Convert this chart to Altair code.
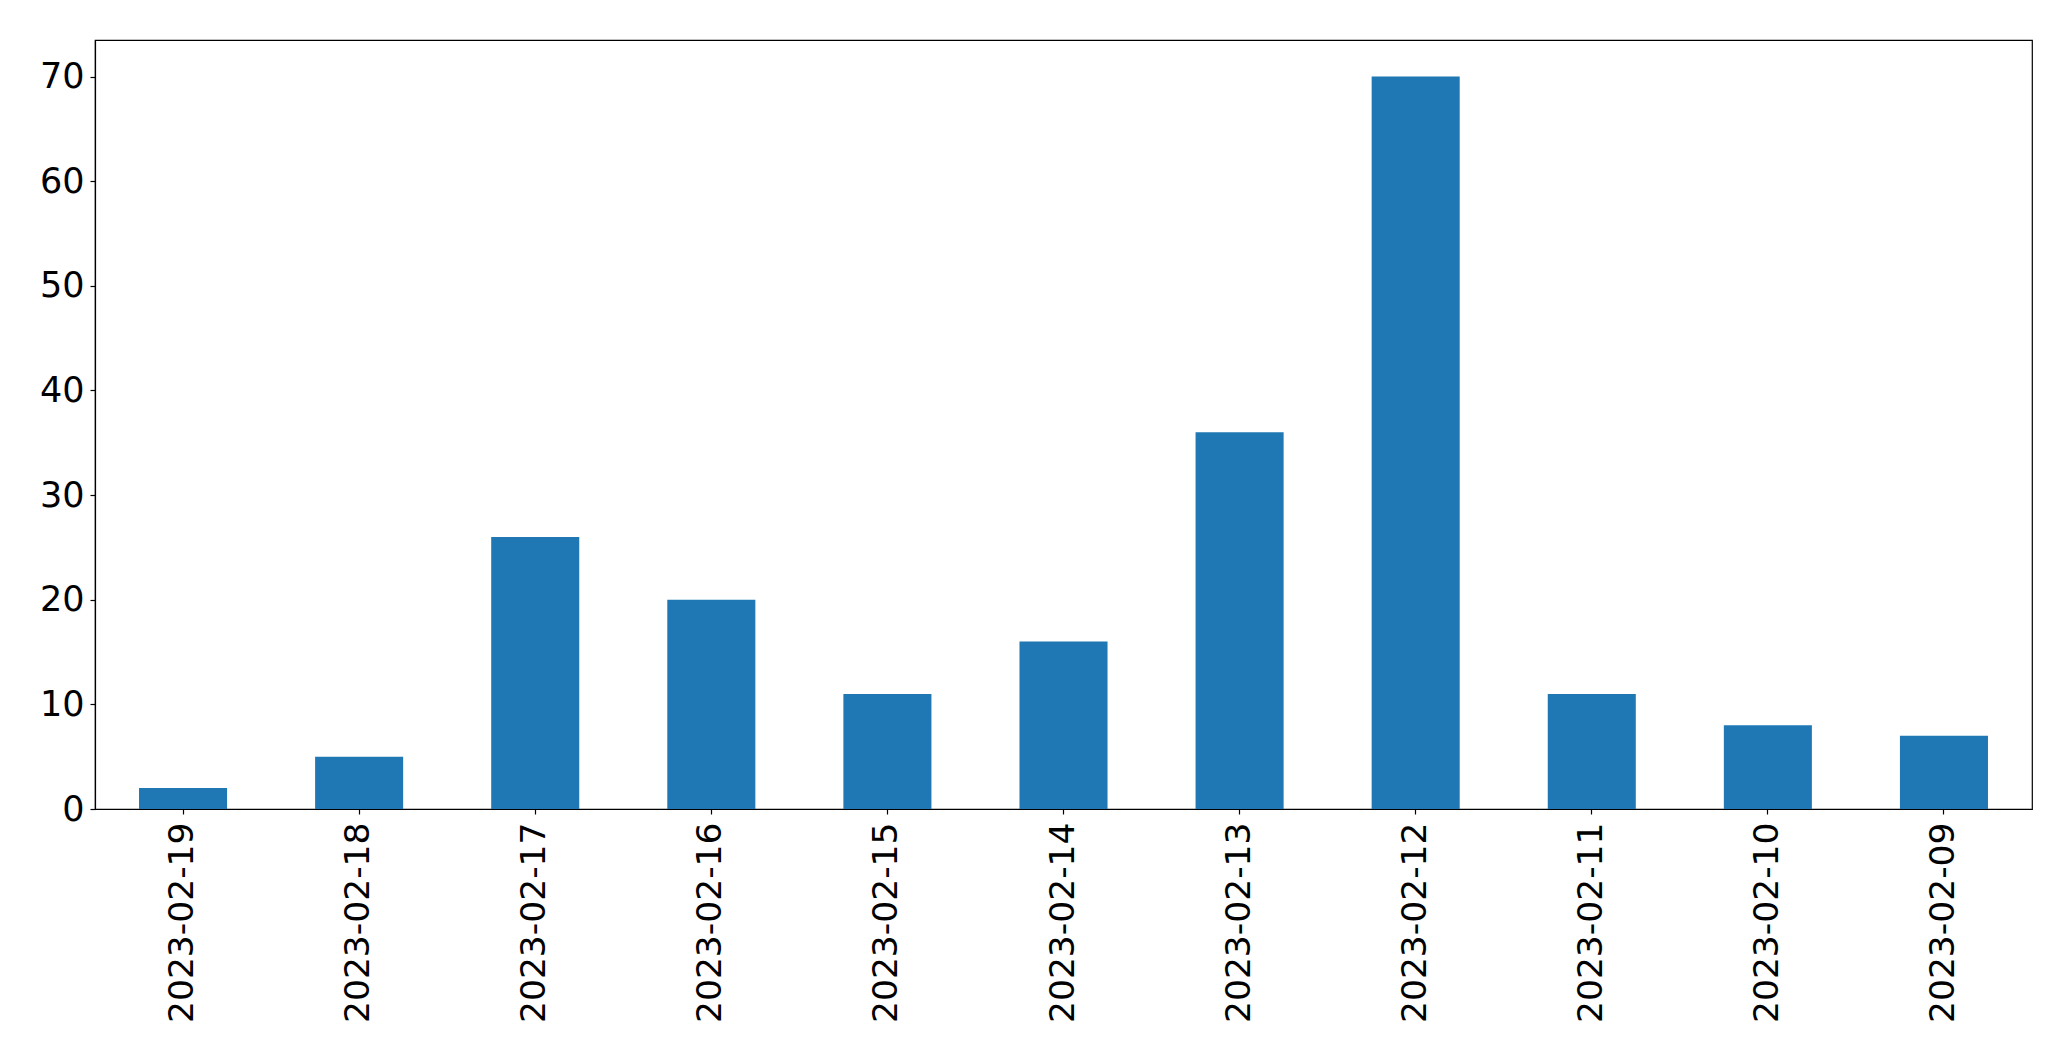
import altair as alt
import pandas as pd

dates = ["2023-02-19", "2023-02-18", "2023-02-17", "2023-02-16", "2023-02-15",
         "2023-02-14", "2023-02-13", "2023-02-12", "2023-02-11", "2023-02-10", "2023-02-09"]
counts = [2, 5, 26, 20, 11, 16, 36, 70, 11, 8, 7]

df = pd.DataFrame({"date": dates, "count": counts})

FONT = "DejaVu Sans"

chart = alt.Chart(df).mark_bar(color="#1f77b4").encode(
    x=alt.X("date:N", sort=dates, title=None,
            scale=alt.Scale(paddingInner=0.5, paddingOuter=0.25),
            axis=alt.Axis(labelAngle=270, labelAlign="right", labelBaseline="middle",
                          labelFontSize=34.5, labelFont=FONT, labelColor="black",
                          labelLimit=500,
                          tickSize=5, tickColor="black", domainColor="black",
                          labelPadding=8, grid=False)),
    y=alt.Y("count:Q", title=None,
            scale=alt.Scale(domain=[0, 73.5], nice=False, zero=True),
            axis=alt.Axis(values=[0, 10, 20, 30, 40, 50, 60, 70],
                          labelFontSize=35, labelFont=FONT, labelColor="black",
                          tickSize=5, tickColor="black", domainColor="black",
                          labelPadding=6, grid=False)),
).properties(
    width=1937, height=769,
    autosize=alt.AutoSizeParams(type="none"),
    padding={"left": 87, "top": 32, "right": 20, "bottom": 220},
).configure_view(
    stroke="black", strokeWidth=1.2
).configure_axis(
    domainWidth=1.2, tickWidth=1.2
)

chart.save("out.html", embed_options={"renderer": "svg", "actions": False})
